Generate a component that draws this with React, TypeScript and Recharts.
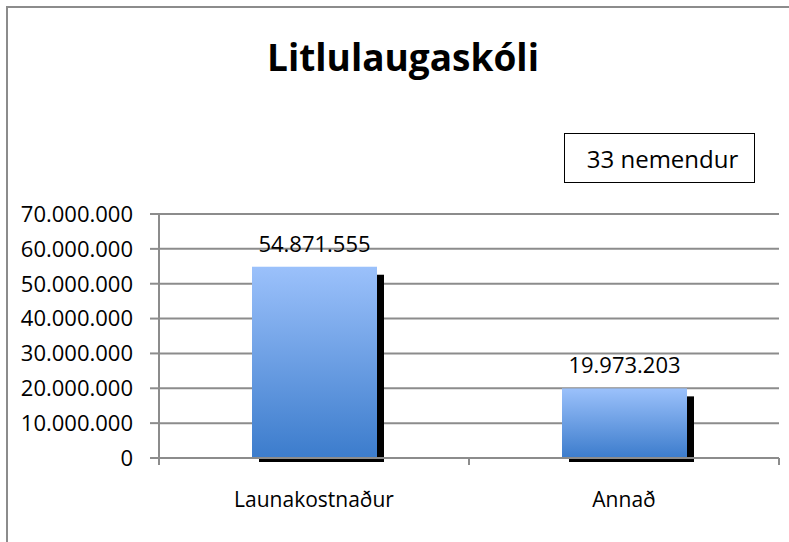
import React from 'react';
import { BarChart, Bar, XAxis, YAxis, CartesianGrid, LabelList } from 'recharts';

const categories = ['Launakostnaður', 'Annað'];
const amounts = [54871555, 19973203];
const yTicks = [0, 10000000, 20000000, 30000000, 40000000, 50000000, 60000000, 70000000];
const title = 'Litlulaugaskóli';
const studentNote = '33 nemendur';

const data = categories.map((name, i) => ({ name, value: amounts[i] }));

const FONT = '"Open Sans", sans-serif';
const GRID = '#8c8c8c';

const fmt = (v: number) => v.toLocaleString('de-DE');

// bar with black drop shadow on the right/bottom
const ShadowBar = (props: any) => {
  const { x, y, width, height } = props;
  if (!height || height <= 0) return null;
  return (
    <g>
      <rect x={x + 7} y={y + 8} width={width} height={height - 4} fill="#000" />
      <rect x={x} y={y} width={width} height={height} fill="url(#barGrad)" />
    </g>
  );
};

// category tick: marks drawn at band edges, label in the middle
const CatTick = (props: any) => {
  const { x, y, payload, index, visibleTicksCount } = props;
  const half = payload?.offset ?? 155;
  return (
    <g>
      <line x1={x - half} y1={y - 8} x2={x - half} y2={y - 1} stroke={GRID} strokeWidth={2} />
      {index === visibleTicksCount - 1 && (
        <line x1={x + half} y1={y - 8} x2={x + half} y2={y - 1} stroke={GRID} strokeWidth={2} />
      )}
      <text x={x} y={y + 41} textAnchor="middle" fontSize={21} fontFamily={FONT} fill="#000">
        {payload.value}
      </text>
    </g>
  );
};

const App: React.FC = () => {
  return (
    <div style={{ position: 'absolute', left: 0, top: 0, width: 789, height: 542, background: '#fff' }}>
      <div
        style={{
          position: 'absolute', left: 6, top: 6, width: 800, height: 560,
          borderLeft: `2px solid ${GRID}`, borderTop: `2px solid ${GRID}`,
        }}
      />
      <div
        style={{
          position: 'absolute', left: 0, width: 806, top: 29, textAlign: 'center',
          fontFamily: FONT, fontWeight: 700, fontSize: 37, lineHeight: '56px', color: '#000',
        }}
      >
        {title}
      </div>
      <div
        style={{
          position: 'absolute', left: 564, top: 133, width: 183, height: 48,
          border: '1px solid #000', fontFamily: FONT, fontSize: 24, lineHeight: '50px',
          textAlign: 'center', color: '#000', paddingLeft: 6, boxSizing: 'content-box',
        }}
      >
        {studentNote}
      </div>
      <div style={{ position: 'absolute', left: 0, top: 0 }}>
        <BarChart
          width={789}
          height={542}
          data={data}
          margin={{ top: 214, right: 10, left: 0, bottom: 0 }}
        >
          <defs>
            <linearGradient id="barGrad" x1="0" y1="0" x2="0" y2="1">
              <stop offset="0%" stopColor="#9bc1fb" />
              <stop offset="100%" stopColor="#3c7ccc" />
            </linearGradient>
          </defs>
          <CartesianGrid vertical={false} stroke={GRID} strokeWidth={2} />
          <XAxis
            dataKey="name"
            height={84}
            axisLine={{ stroke: GRID, strokeWidth: 2 }}
            tickLine={false}
            tick={<CatTick />}
            interval={0}
          />
          <YAxis
            width={159}
            domain={[0, 70000000]}
            ticks={yTicks}
            interval={0}
            tickFormatter={fmt}
            axisLine={{ stroke: GRID, strokeWidth: 2 }}
            tickLine={{ stroke: GRID, strokeWidth: 2 }}
            tickSize={9}
            tickMargin={17}
            tick={{ fontSize: 22, fontFamily: FONT, fill: '#000' }}
          />
          <Bar dataKey="value" barSize={125} shape={<ShadowBar />} isAnimationActive={false}>
            <LabelList
              dataKey="value"
              position="top"
              offset={15}
              formatter={(v: any) => fmt(Number(v))}
              style={{ fontSize: 22, fontFamily: FONT, fill: '#000' }}
            />
          </Bar>
        </BarChart>
      </div>
    </div>
  );
};

export default App;
